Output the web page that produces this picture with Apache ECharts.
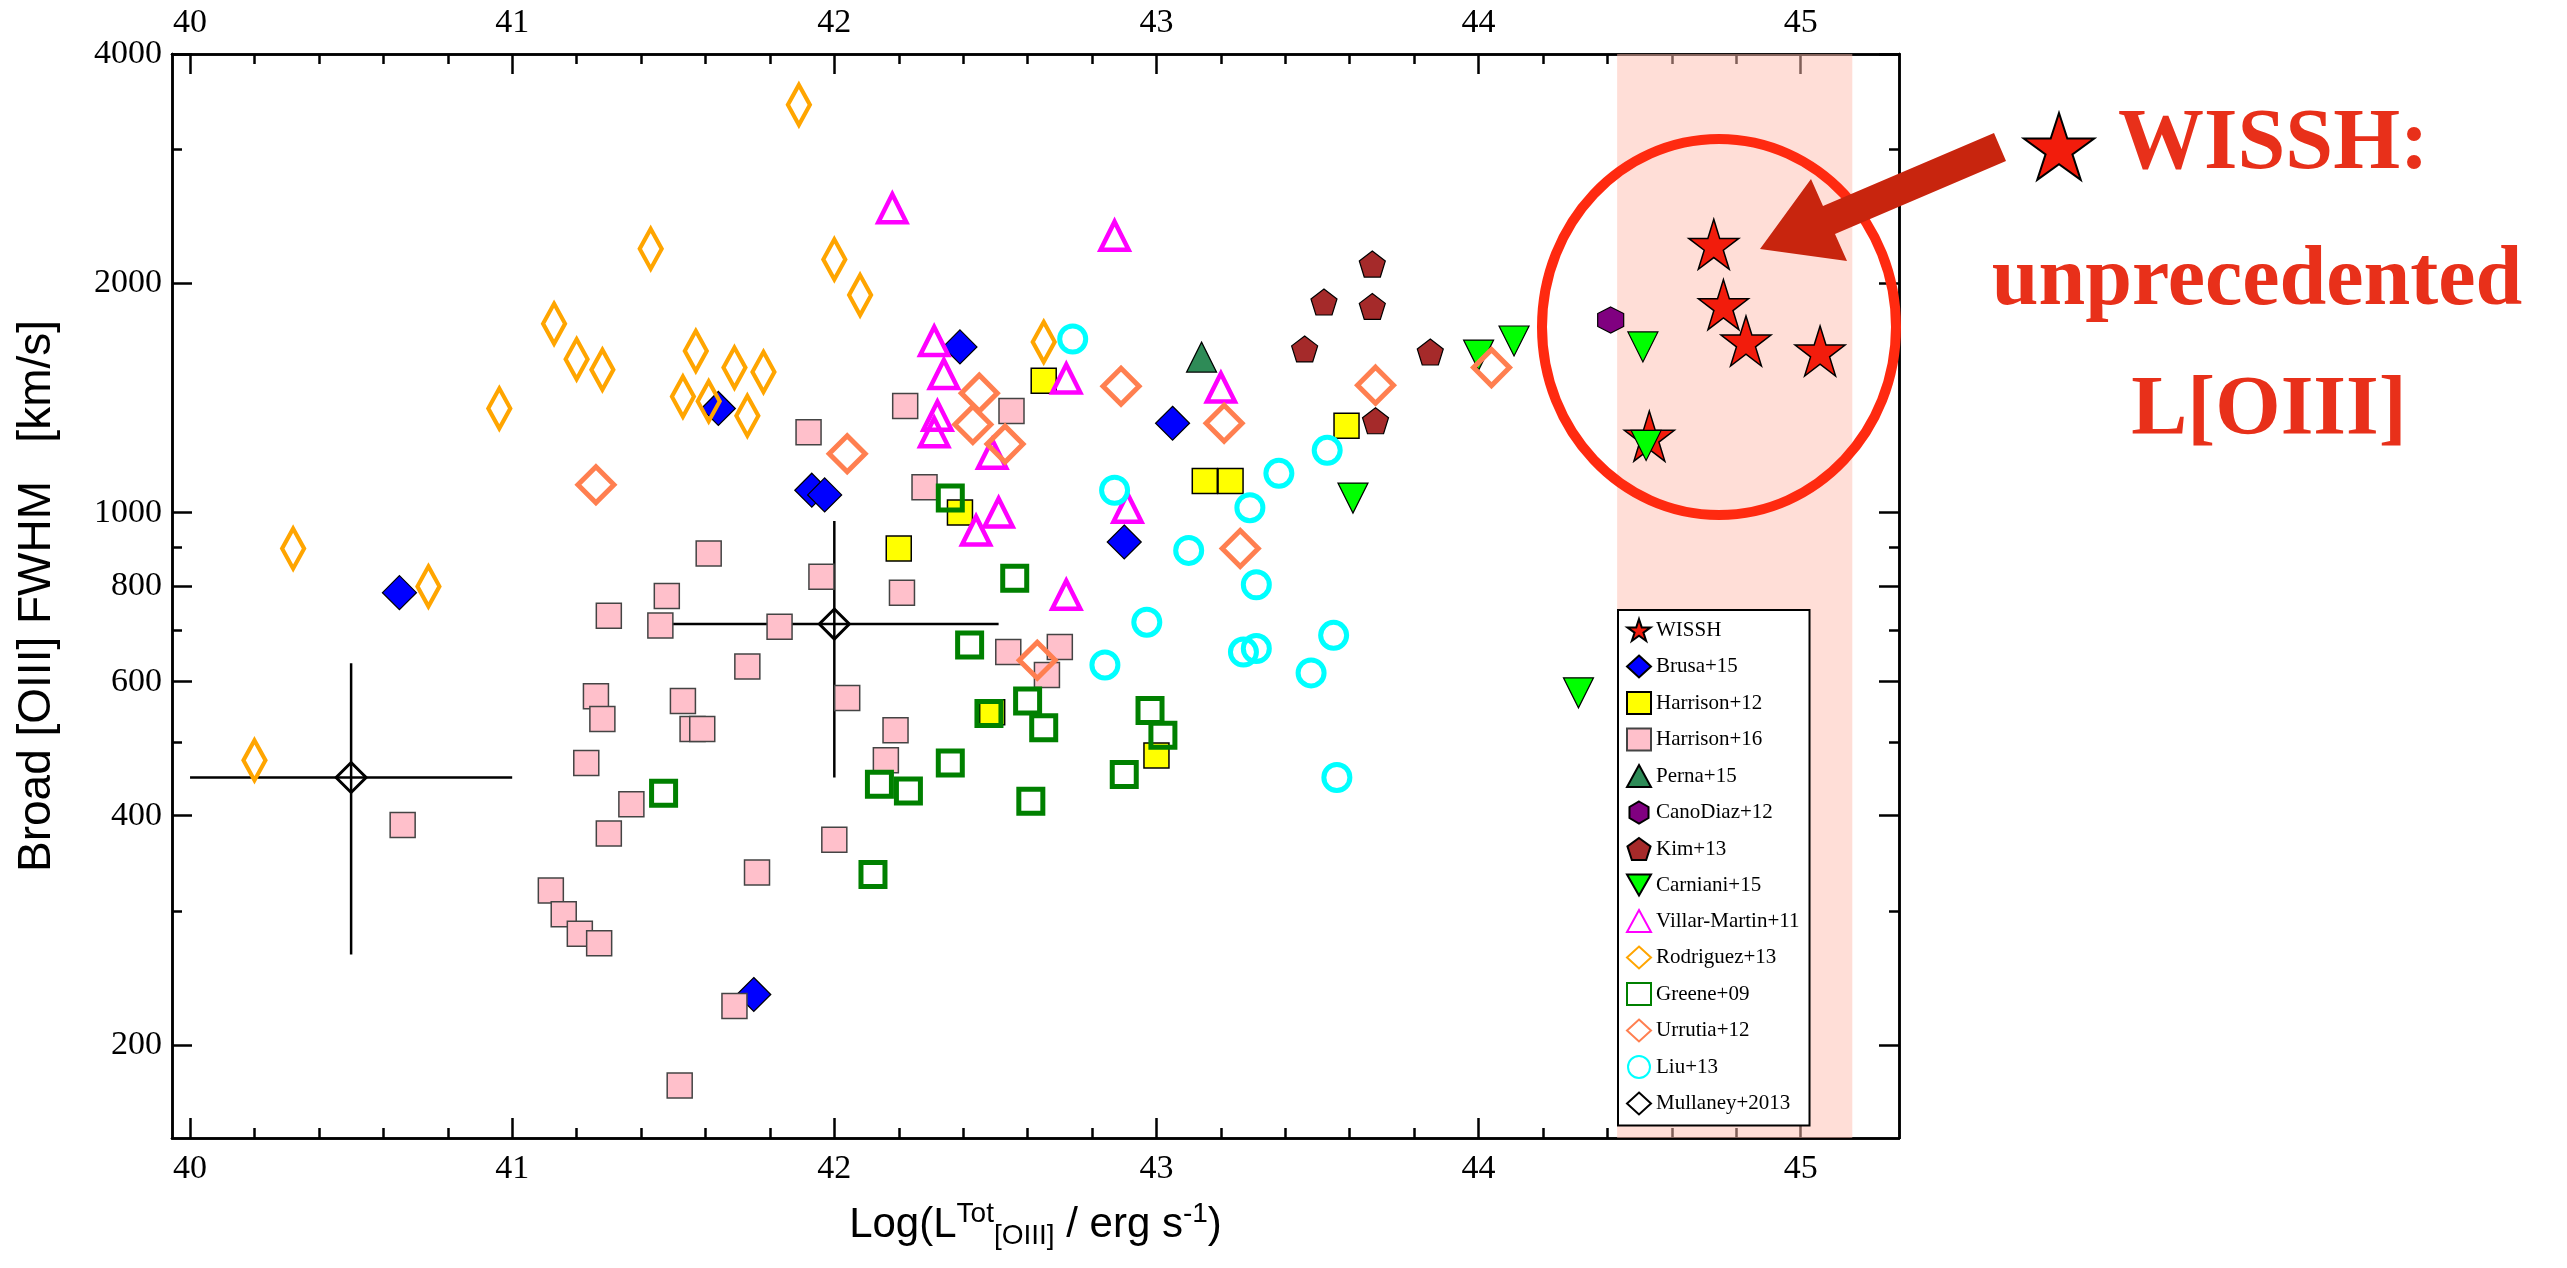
<!DOCTYPE html>
<html><head><meta charset="utf-8">
<script src="https://cdn.jsdelivr.net/npm/echarts@6/dist/echarts.min.js"></script>
<style>html,body{margin:0;background:#fff}#c{width:2567px;height:1268px}</style>
</head><body><div id="c"></div>
<script>
// ---- data: [log L, FWHM km/s] ----
const wissh=[[44.73,2250],[44.76,1875],[44.83,1680],[45.06,1630],[44.53,1260]];
const brusa=[[40.65,785],[41.64,1370],[41.93,1070],[41.97,1055],[42.39,1650],[43.05,1310],[42.90,915],[41.75,233]];
const harrison12=[[42.65,1490],[42.20,897],[42.39,1000],[43.15,1100],[43.23,1100],[43.59,1300],[43.00,480],[42.49,547]];
const harrison16=[[41.92,1275],[42.28,1080],[42.55,1360],[42.21,785],[41.61,884],[41.96,824],[41.48,777],[41.30,732],[41.46,711],[41.83,708],[41.73,628],[42.54,656],[41.26,574],[41.53,566],[41.28,536],[41.56,520],[41.59,520],[42.04,571],[41.23,469],[42.16,473],[42.19,518],[41.37,414],[41.30,379],[41.12,319],[41.16,297],[41.21,280],[41.27,272],[42.00,372],[41.76,337],[41.69,225],[41.52,177],[40.66,389],[42.70,666],[42.66,612],[42.22,1380]];
const perna=[[43.14,1600]];
const canodiaz=[[44.41,1790]];
const kim=[[43.67,2120],[43.52,1890],[43.67,1865],[43.46,1640],[43.85,1625],[43.68,1320]];
const carniani=[[44.11,1680],[44.00,1610],[44.51,1650],[43.61,1045],[44.31,580],[44.52,1225]];
const villar=[[42.18,2510],[42.87,2310],[42.31,1680],[42.34,1520],[42.72,1500],[43.20,1460],[42.32,1340],[42.31,1275],[42.49,1195],[42.51,1000],[42.44,947],[42.91,1015],[42.72,780]];
const rodriguez=[[41.89,3430],[41.43,2220],[42.00,2150],[42.08,1930],[41.28,1540],[41.13,1770],[41.20,1590],[41.57,1630],[41.53,1420],[41.61,1400],[41.69,1550],[41.78,1530],[41.73,1340],[40.96,1370],[40.32,897],[40.74,800],[40.20,473],[42.65,1675]];
const greene=[[42.36,1045],[42.56,820],[42.42,670],[42.48,545],[42.60,566],[42.65,522],[42.98,550],[43.02,510],[42.90,453],[42.61,418],[42.36,469],[42.23,431],[42.14,440],[42.12,335],[41.47,428]];
const urrutia=[[41.26,1088],[42.04,1195],[42.45,1435],[42.43,1305],[42.53,1230],[42.89,1465],[43.21,1310],[43.26,897],[42.63,640],[43.68,1470],[44.04,1550]];
const liu=[[42.74,1690],[42.87,1070],[43.10,892],[43.29,1015],[43.38,1126],[43.53,1207],[43.31,804],[42.97,718],[42.84,631],[43.27,656],[43.31,663],[43.48,616],[43.55,690],[43.56,449]];
// Mullaney: x, y, xlo, xhi, ylo, yhi
const mullaney=[[40.5,449,40.0,41.0,263,634],[42.0,714,41.49,42.51,449,975]];
const wisshBand=[44.43,45.16];
const xMajor=[40,41,42,43,44,45];
const yMajor=[200,400,600,800,1000,2000,4000];
const yMinor=[300,500,700,900,3000];

const L=v=>Math.log10(v);
const tr=a=>a.map(p=>[p[0],L(p[1])]);
const xMinor=[];for(let i=40;i<=45.2;i+=0.2){const v=+i.toFixed(1);if(!xMajor.includes(v))xMinor.push(v);}
const XMIN=39.944,XMAX=45.305,YMIN=L(151),YMAX=L(4000);
const serif='"Liberation Serif","DejaVu Serif",serif';
const starPts=[[0,-1],[0.2245,-0.309],[0.951,-0.309],[0.363,0.118],[0.588,0.809],[0,0.382],[-0.588,0.809],[-0.363,0.118],[-0.951,-0.309],[-0.2245,-0.309]];
const P={
 star:'path://M'+starPts.map(p=>p.join(',')).join('L')+'Z',
 pent:'path://M0,-1L0.951,-0.309L0.588,0.809L-0.588,0.809L-0.951,-0.309Z',
 hex:'path://M0,-1L0.866,-0.5L0.866,0.5L0,1L-0.866,0.5L-0.866,-0.5Z',
 down:'path://M-1,-0.85L1,-0.85L0,0.9Z'
};
function xa(pos,vals,len,labels){return {type:'value',position:pos,min:XMIN,max:XMAX,splitLine:{show:false},
 axisLine:{show:true,onZero:false,lineStyle:{color:'#000',width:2.5}},
 axisTick:{show:true,inside:true,length:len,customValues:vals,lineStyle:{color:'#000',width:2.5}},
 axisLabel:{show:labels,customValues:vals,margin:14,fontFamily:serif,fontSize:34,color:'#000',formatter:v=>String(Math.round(v))}};}
function ya(pos,vals,len,labels){return {type:'value',position:pos,min:YMIN,max:YMAX,splitLine:{show:false},
 axisLine:{show:true,onZero:false,lineStyle:{color:'#000',width:2.5}},
 axisTick:{show:true,inside:true,length:len,customValues:vals.map(L),lineStyle:{color:'#000',width:2.5}},
 axisLabel:{show:labels,customValues:vals.map(L),margin:10,fontFamily:serif,fontSize:34,color:'#000',formatter:v=>String(Math.round(Math.pow(10,v)))}};}
const xAxes=[xa('bottom',xMajor,20,true),xa('bottom',xMinor,10,false),xa('top',xMajor,20,true),xa('top',xMinor,10,false)];
xAxes[0].name='{n|Log(L}{s|Tot}{b|[OIII]}{n| / erg s}{s|-1}{n|)}';
xAxes[0].nameLocation='middle';xAxes[0].nameGap=62;
xAxes[0].nameTextStyle={rich:{n:{fontFamily:'Liberation Sans,Arial,sans-serif',fontSize:42,color:'#000'},
 s:{fontFamily:'Liberation Sans,Arial,sans-serif',fontSize:28,color:'#000',verticalAlign:'top',padding:[0,0,22,0]},
 b:{fontFamily:'Liberation Sans,Arial,sans-serif',fontSize:28,color:'#000',padding:[22,0,0,0]}}};
const yAxes=[ya('left',yMajor,20,true),ya('left',yMinor,10,false),ya('right',yMajor,20,false),ya('right',yMinor,10,false)];
yAxes[0].name='Broad [OIII] FWHM   [km/s]';yAxes[0].nameLocation='middle';yAxes[0].nameGap=112;
yAxes[0].nameTextStyle={fontFamily:'Liberation Sans,Arial,sans-serif',fontSize:46,color:'#000'};

function sc(name,data,symbol,size,fill,border,bw,hollow){
 return {name,type:'scatter',data:tr(data),symbol,symbolSize:size,symbolKeepAspect:false,
  itemStyle:{color:hollow?'rgba(255,255,255,0)':fill,borderColor:border,borderWidth:bw,opacity:1},z:3,emphasis:{disabled:true}};
}
const series=[
 sc('WISSH',wissh,P.star,50,'#f21c0c','#000',1.5),
 sc('Brusa+15',brusa,'diamond',34,'#0000ff','#000',1.2),
 sc('Harrison+12',harrison12,'rect',25,'#ffff00','#000',1.5),
 sc('Harrison+16',harrison16,'rect',25,'#ffc0cb','#444',1.5),
 sc('Perna+15',perna,'triangle',30,'#2e8b57','#000',1.2),
 sc('CanoDiaz+12',canodiaz,P.hex,26,'#800080','#000',1.2),
 sc('Kim+13',kim,P.pent,26,'#a52a2a','#000',1.2),
 sc('Carniani+15',carniani,P.down,30,'#00ff00','#000',1.2),
 sc('Villar-Martin+11',villar,'triangle',28,'#ff00ff','#ff00ff',4.5,true),
 sc('Rodriguez+13',rodriguez,'diamond',[22,40],'#ffa500','#ffa500',4.5,true),
 sc('Greene+09',greene,'rect',24,'#008000','#008000',5,true),
 sc('Urrutia+12',urrutia,'diamond',36,'#ff7f50','#ff7f50',5,true),
 sc('Liu+13',liu,'circle',26,'#00ffff','#00ffff',5,true),
 sc('Mullaney+2013',mullaney.map(m=>[m[0],m[1]]),'diamond',30,'#000','#000',3,true),
 {name:'errbars',type:'custom',data:mullaney.map(m=>[m[0],L(m[1]),m[2],m[3],L(m[4]),L(m[5])]),z:2,
  renderItem:(p,api)=>{const x=api.value(0),y=api.value(1);
   const a=api.coord([api.value(2),y]),b=api.coord([api.value(3),y]),c=api.coord([x,api.value(4)]),d=api.coord([x,api.value(5)]);
   const st={stroke:'#000',lineWidth:2.5};
   return {type:'group',children:[{type:'line',shape:{x1:a[0],y1:a[1],x2:b[0],y2:b[1]},style:st},{type:'line',shape:{x1:c[0],y1:c[1],x2:d[0],y2:d[1]},style:st}]};}},
 {name:'band',type:'scatter',data:[],z:1,markArea:{silent:true,itemStyle:{color:'rgba(255,190,175,0.5)'},
  data:[[{xAxis:wisshBand[0],yAxis:YMIN},{xAxis:wisshBand[1],yAxis:YMAX}]]}}
];
const legendNames=series.slice(0,14).map(s=>s.name);
const red='#e8301a';
const chart=echarts.init(document.getElementById('c'));
chart.setOption({
 animation:false,backgroundColor:'#fff',
 grid:{left:172,right:668,top:54,bottom:130},
 xAxis:xAxes,yAxis:yAxes,series,
 legend:{data:legendNames,orient:'vertical',left:1618,top:610,itemGap:12.5,itemWidth:24,itemHeight:22,
  padding:[8,10,10,8],backgroundColor:'#fff',borderColor:'#000',borderWidth:2,
  textStyle:{fontFamily:serif,fontSize:21,color:'#000'}},
 graphic:[
  {type:'ellipse',shape:{cx:1719,cy:327,rx:177,ry:188},style:{fill:null,stroke:'#ff2a10',lineWidth:10},z:10},
  {type:'polygon',shape:{points:[[1994,133],[1823,206],[1811,179],[1760,249],[1847,261],[1835,234],[2006,161]]},style:{fill:'#c8250e'},z:10},
  {type:'polygon',shape:{points:starPts.map(p=>[2059+37*p[0],150+37*p[1]])},style:{fill:'#f21c0c',stroke:'#000',lineWidth:2},z:10},
  {type:'text',x:2118,y:146,style:{text:'WISSH:',fontFamily:serif,fontWeight:'bold',fontSize:86,fill:red,verticalAlign:'middle',align:'left'},z:10},
  {type:'text',x:2257,y:282,style:{text:'unprecedented',fontFamily:serif,fontWeight:'bold',fontSize:84,fill:red,verticalAlign:'middle',align:'center'},z:10},
  {type:'text',x:2269,y:412,style:{text:'L[OIII]',fontFamily:serif,fontWeight:'bold',fontSize:84,fill:red,verticalAlign:'middle',align:'center'},z:10}
 ]
});
</script></body></html>
